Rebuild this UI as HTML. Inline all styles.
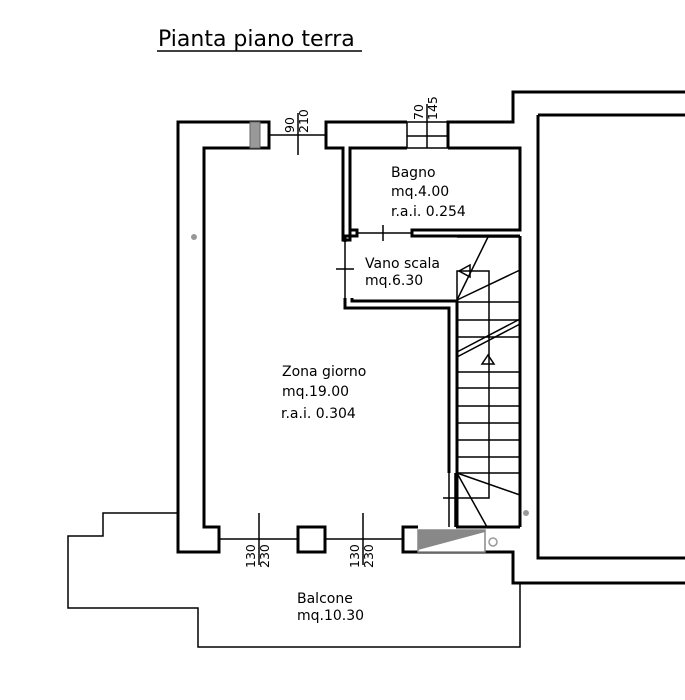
<!DOCTYPE html>
<html><head><meta charset="utf-8"><style>
html,body{margin:0;padding:0;background:#fff}
svg{display:block}
text{font-family:"DejaVu Sans","Liberation Sans",sans-serif;fill:#000}
</style></head><body>
<svg width="685" height="700" viewBox="0 0 685 700" xmlns="http://www.w3.org/2000/svg">
<text x="158" y="46" font-size="22">Pianta piano terra</text>
<line x1="157" y1="51" x2="362" y2="51" stroke="#000" stroke-width="1.5"/>
<g fill="none" stroke="#000" stroke-width="3" stroke-linejoin="miter">
<!-- left wall -->
<polygon points="178,122 269,122 269,148 204,148 204,527 219,527 219,552 178,552"/>
<!-- top middle wall + partition -->
<polyline points="407,122 326,122 326,148 343,148 343,240 350,240 350,148 407,148"/>
<!-- top right -->
<polyline points="448,148 448,122 513,122 513,92 685,92"/>
<polyline points="448,148 520,148 520,230 412,230 412,236 520,236"/>
<polyline points="350,230 357,230 357,236 345,236 345,242"/>
<!-- vano scala bottom wall -->
<polyline points="345,298 345,308 449,308 449,473"/>
<polyline points="352,298 352,301 457,301 457,527"/>
<!-- far right -->
<polyline points="538,115 685,115"/>
<polyline points="538,115 538,558 685,558"/>
<!-- stair right -->
<line x1="520" y1="236" x2="520" y2="527"/>
<line x1="456" y1="527" x2="520" y2="527"/>
<!-- bottom -->
<rect x="298" y="527" width="27" height="25"/>
<polyline points="418,527 403,527 403,552 513,552 513,583 685,583"/>
</g>
<g fill="none" stroke="#000" stroke-width="1.5">
<line x1="345" y1="242" x2="345" y2="298"/>
<line x1="269" y1="135" x2="326" y2="135"/>
<line x1="298" y1="113" x2="298" y2="155"/>
<rect x="407" y="122" width="41" height="26"/>
<line x1="427" y1="104" x2="427" y2="148"/>
<line x1="407" y1="136" x2="448" y2="136"/>
<line x1="357" y1="233" x2="412" y2="233"/>
<line x1="383" y1="225" x2="383" y2="241"/>
<line x1="336" y1="269" x2="354" y2="269"/>
<line x1="219" y1="539" x2="298" y2="539"/>
<line x1="325" y1="539" x2="403" y2="539"/>
<line x1="259" y1="513" x2="259" y2="565"/>
<line x1="363" y1="513" x2="363" y2="565"/>
<line x1="449" y1="473" x2="449" y2="527"/>
<line x1="455" y1="473" x2="455" y2="527"/>
<!-- balcony -->
<polyline points="178,513 103,513 103,536 68,536 68,608 198,608 198,647 520,647 520,583"/>
<!-- stairs -->
<line x1="457" y1="237" x2="520" y2="237"/>
<polyline points="457,300 457,271 489,271 489,498 443,498"/>
<line x1="457" y1="300" x2="488" y2="237"/>
<line x1="457" y1="300" x2="520" y2="270"/>
<line x1="457" y1="352" x2="520" y2="319"/>
<line x1="457" y1="357" x2="520" y2="324"/>
<line x1="457" y1="473" x2="520" y2="495"/>
<line x1="457" y1="473" x2="487" y2="527"/>
<polygon points="488,355 482,364 494,364"/>
<polygon points="459,271 470,265 470,277"/>
</g>
<g stroke="#000" stroke-width="1.5">
<line x1="457" y1="302" x2="520" y2="302"/><line x1="457" y1="320" x2="520" y2="320"/>
<line x1="457" y1="337" x2="520" y2="337"/><line x1="457" y1="372" x2="520" y2="372"/>
<line x1="457" y1="388" x2="520" y2="388"/><line x1="457" y1="406" x2="520" y2="406"/>
<line x1="457" y1="423" x2="520" y2="423"/><line x1="457" y1="440" x2="520" y2="440"/>
<line x1="457" y1="457" x2="520" y2="457"/><line x1="457" y1="473" x2="520" y2="473"/>
</g>
<!-- hatched window -->
<rect x="250" y="122" width="10" height="26" fill="#999" stroke="#666" stroke-width="1"/>
<!-- grey box -->
<rect x="418" y="530" width="67" height="22" fill="#fff" stroke="#888" stroke-width="1.5"/>
<polygon points="418,530 485,530 418,552" fill="none"/>
<polygon points="418,530 418,550 485,532 485,530" fill="#888"/>
<circle cx="194" cy="237" r="3" fill="#999"/>
<circle cx="526" cy="513" r="3" fill="#999"/>
<circle cx="493" cy="542" r="4" fill="#fff" stroke="#999" stroke-width="1.5"/>
<g font-size="12.5">
<text transform="translate(294,133) rotate(-90)">90</text>
<text transform="translate(308,133) rotate(-90)">210</text>
<text transform="translate(423,120) rotate(-90)">70</text>
<text transform="translate(437,120) rotate(-90)">145</text>
<text transform="translate(255,568) rotate(-90)">130</text>
<text transform="translate(269,568) rotate(-90)">230</text>
<text transform="translate(359,568) rotate(-90)">130</text>
<text transform="translate(373,568) rotate(-90)">230</text>
</g>
<g font-size="14">
<text x="391" y="177">Bagno</text>
<text x="391" y="196">mq.4.00</text>
<text x="391" y="216">r.a.i. 0.254</text>
<text x="365" y="268">Vano scala</text>
<text x="365" y="285">mq.6.30</text>
<text x="282" y="376">Zona giorno</text>
<text x="282" y="396">mq.19.00</text>
<text x="281" y="418">r.a.i. 0.304</text>
<text x="297" y="603">Balcone</text>
<text x="297" y="620">mq.10.30</text>
</g>
</svg>
</body></html>
